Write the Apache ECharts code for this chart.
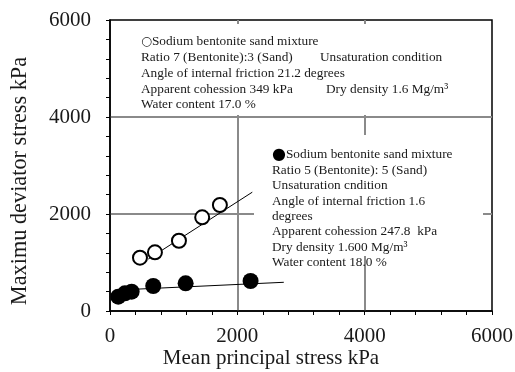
<!DOCTYPE html>
<html>
<head>
<meta charset="utf-8">
<script src="https://cdn.jsdelivr.net/npm/echarts@6/dist/echarts.min.js"></script>
<style>
  html, body { margin: 0; padding: 0; background: #fff; overflow: hidden; }
  #chart { width: 515px; height: 372px; }
</style>
</head>
<body>
<div id="chart"></div>
<script>
// Ratio 7:3 mixture (open circles): mean principal stress vs max deviator stress, kPa
const openP = [471, 706, 1083, 1448, 1726];
const openQ = [1099, 1210, 1449, 1932, 2186];
// Ratio 5:5 mixture (filled circles)
const fillP = [130, 235, 340, 679, 1188, 2208];
const fillQ = [295, 365, 398, 515, 571, 619];
// Failure envelopes (end points)
const openFitP = [600, 2235];
const openFitQ = [1070, 2450];
const fillFitP = [250, 2730];
const fillFitQ = [440, 592];

const axisMin = 0;
const axisMax = 6000;
const majorStep = 2000;
const minorStep = 400;

const serif = '"Liberation Serif", "Times New Roman", serif';
const ink = '#1a1a1a';

const zip = (a, b) => a.map((v, i) => [v, b[i]]);

const chart = echarts.init(document.getElementById('chart'), null, { renderer: 'canvas', width: 515, height: 372 });

// labelled axis: numbers, frame line and the grey grid lines
function mainAxis(labelMargin) {
  return {
    type: 'value', min: axisMin, max: axisMax, interval: majorStep,
    axisLine: { show: true, lineStyle: { color: '#000', width: 1.5 } },
    axisTick: { show: false },
    axisLabel: { fontFamily: serif, fontSize: 21, color: ink, margin: labelMargin, formatter: v => String(v) },
    splitLine: { show: true, showMinLine: false, showMaxLine: false, lineStyle: { color: '#8a8a8a', width: 2 } }
  };
}
// companion axis carrying the small inward ticks
function tickAxis() {
  return {
    type: 'value', min: axisMin, max: axisMax, interval: minorStep,
    axisLine: { show: false },
    axisTick: { show: true, inside: true, length: 4, lineStyle: { color: '#000', width: 1 } },
    axisLabel: { show: false },
    splitLine: { show: false }
  };
}

const noteFont = 'normal 13.3px ' + serif;
function note(x, y, text, rich) {
  return {
    type: 'text', x: x, y: y, z: 100,
    style: {
      text: text, font: noteFont, fill: ink,
      textVerticalAlign: 'middle', textAlign: 'left',
      rich: rich
    }
  };
}
const richSym = {
  o: { fontFamily: '"DejaVu Sans", sans-serif', fontSize: 12.5, fill: ink },
  f: { fontFamily: '"DejaVu Sans", sans-serif', fontSize: 16, fill: '#000' }
};

const l1 = [41.7, 57.7, 73.5, 89.3, 105];
const l2 = [155, 170.4, 185.8, 201.2, 216.6, 232, 247.4, 262.8];

const option = {
  backgroundColor: '#fff',
  animation: false,
  grid: {
    left: 110, top: 20, right: 23, bottom: 61,
    containLabel: false, outerBoundsMode: 'none',
    show: true, borderColor: '#000', borderWidth: 1.5, backgroundColor: 'transparent'
  },
  xAxis: [mainAxis(15), tickAxis()],
  yAxis: [mainAxis(19), tickAxis()],
  series: [
    {
      type: 'line', data: zip(openFitP, openFitQ), showSymbol: false, symbol: 'none',
      lineStyle: { color: '#000', width: 1 }, z: 3, silent: true
    },
    {
      type: 'line', data: zip(fillFitP, fillFitQ), showSymbol: false, symbol: 'none',
      lineStyle: { color: '#000', width: 1 }, z: 3, silent: true
    },
    {
      type: 'scatter', data: zip(openP, openQ), symbol: 'circle', symbolSize: 14,
      itemStyle: { color: '#fff', borderColor: '#000', borderWidth: 2, opacity: 1 }, z: 4
    },
    {
      type: 'scatter', data: zip(fillP, fillQ), symbol: 'circle', symbolSize: 16,
      itemStyle: { color: '#000', opacity: 1 }, z: 4
    }
  ],
  graphic: [
    // axis titles
    { type: 'text', x: 271, y: 358, z: 100,
      style: { text: 'Mean principal stress kPa', font: 'normal 21px ' + serif, fill: ink, textAlign: 'center', textVerticalAlign: 'middle' } },
    { type: 'text', x: 20, y: 181, rotation: Math.PI / 2, z: 100,
      style: { text: 'Maximu deviator stress kPa', font: 'normal 22.3px ' + serif, fill: ink, textAlign: 'center', textVerticalAlign: 'middle' } },

    // white panels behind the two notes
    { type: 'rect', z: 1, shape: { x: 116, y: 24, width: 375, height: 91 }, style: { fill: '#fff' } },
    { type: 'rect', z: 1, shape: { x: 254, y: 135, width: 229, height: 121 }, style: { fill: '#fff' } },

    note(141, l1[0], '{o|○}Sodium bentonite sand mixture', richSym),
    note(141, l1[1], 'Ratio 7 (Bentonite):3 (Sand)'),
    note(320, l1[1], 'Unsaturation condition'),
    note(141, l1[2], 'Angle of internal friction 21.2 degrees'),
    note(141, l1[3], 'Apparent cohession 349 kPa'),
    note(326, l1[3], 'Dry density 1.6 Mg/m³'),
    note(141, l1[4], 'Water content 17.0 %'),

    note(272, l2[0], '{f|●}Sodium bentonite sand mixture', richSym),
    note(272, l2[1], 'Ratio 5 (Bentonite): 5 (Sand)'),
    note(272, l2[2], 'Unsaturation cndition'),
    note(272, l2[3], 'Angle of internal friction 1.6'),
    note(272, l2[4], 'degrees'),
    note(272, l2[5], 'Apparent cohession 247.8  kPa'),
    note(272, l2[6], 'Dry density 1.600 Mg/m³'),
    note(272, l2[7], 'Water content 18.0 %')
  ]
};

chart.setOption(option);
</script>
</body>
</html>
